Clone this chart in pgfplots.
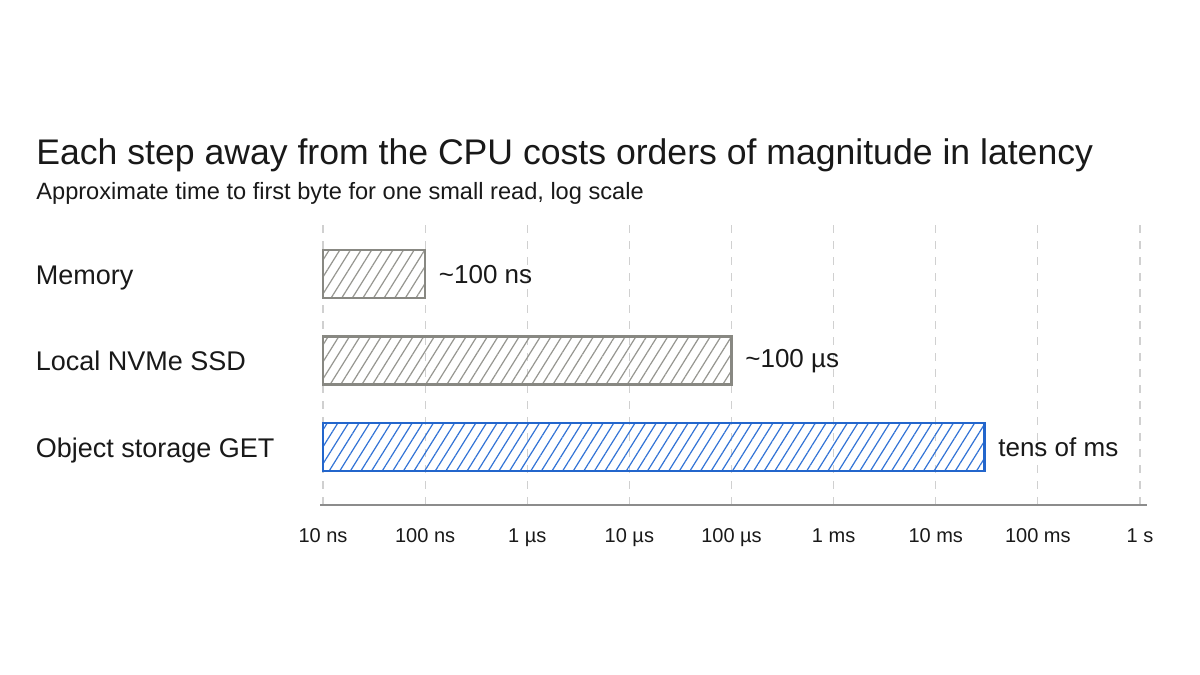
\documentclass[border=0pt]{standalone}
\usepackage{fontspec}
\setmainfont{Liberation Sans}
\usepackage{pgfplots}
\pgfplotsset{compat=1.18}
\usetikzlibrary{patterns.meta}
\definecolor{bargray}{RGB}{136,136,130}
\definecolor{hatchgray}{RGB}{150,150,144}
\definecolor{barblue}{RGB}{35,102,204}
\definecolor{hatchblue}{RGB}{50,115,214}
\definecolor{gridgray}{RGB}{208,208,208}
\definecolor{axisgray}{RGB}{140,140,140}
\definecolor{txt}{RGB}{25,25,25}
\begin{document}
\begin{tikzpicture}
\useasboundingbox[fill=white] (0,0) rectangle (600pt,337.5pt);
\node[anchor=base west, inner sep=0pt, text=txt, font=\fontsize{17.8}{20}\selectfont] at (18pt,255pt) {Each step away from the CPU costs orders of magnitude in latency};
\node[anchor=base west, inner sep=0pt, text=txt, font=\fontsize{11.8}{14}\selectfont] at (18pt,237.5pt) {Approximate time to first byte for one small read, log scale};
% x values in units of 10 ns (1 = 10 ns, 1e8 = 1 s)
\begin{axis}[
  name=ax,
  at={(161.5pt,85pt)}, anchor=south west,
  scale only axis, width=408.5pt, height=140pt,
  xmode=log, log basis x=10, xmin=1, xmax=1e8, log origin x=0,
  ymin=-0.67, ymax=2.57,
  xbar, bar width=24pt,
  axis line style={draw=none},
  xtick={1,10,100,1e3,1e4,1e5,1e6,1e7,1e8},
  xticklabels={10 ns,100 ns,1 µs,10 µs,100 µs,1 ms,10 ms,100 ms,1 s},
  xmajorgrids, grid style={dash pattern=on 4pt off 4pt, gridgray, line width=0.6pt},
  major tick length=0pt, minor tick num=0,
  ytick={0,1,2}, yticklabels={Object storage GET,Local NVMe SSD,Memory},
  yticklabel style={anchor=west, xshift=-147.1pt, yshift=-1.5pt, text height=1.6ex, text depth=0.25ex, font=\fontsize{13.5}{16}\selectfont, text=txt},
  xticklabel style={anchor=base, yshift=-19pt, font=\fontsize{10}{12}\selectfont, text=txt},
  nodes near coords, point meta=explicit symbolic,
  nodes near coords style={anchor=west, xshift=3pt, font=\fontsize{13}{15}\selectfont, text=txt},
  clip=false,
]
\addplot[bar shift=0pt, draw=bargray, line width=1.2pt, pattern={Lines[angle=58,distance=4.5pt,line width=0.6pt]}, pattern color=hatchgray]
  coordinates {(10,2) [{\textasciitilde 100 ns}] (1e4,1) [{\textasciitilde 100 µs}]};
\addplot[bar shift=0pt, draw=barblue, line width=1.2pt, pattern={Lines[angle=58,distance=4.5pt,line width=0.6pt]}, pattern color=hatchblue]
  coordinates {(3e6,0) [{tens of ms}]};
\end{axis}
\draw[axisgray, line width=1pt] ([xshift=-1.5pt]ax.south west) -- ([xshift=3.5pt]ax.south east);
\end{tikzpicture}
\end{document}
